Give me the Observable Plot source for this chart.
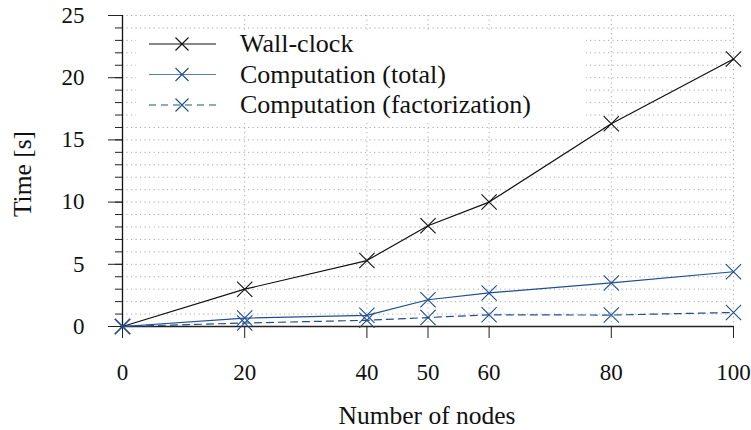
<!DOCTYPE html>
<html><head><meta charset="utf-8">
<script src="https://cdn.jsdelivr.net/npm/d3@7"></script>
<script src="https://cdn.jsdelivr.net/npm/@observablehq/plot@0.6"></script>
<style>body{margin:0;background:#fff}</style>
</head><body><div id="chart"></div>
<script>
const nodes = [0, 20, 40, 50, 60, 80, 100];
const wallClock = [0, 3.0, 5.3, 8.1, 10.0, 16.3, 21.5];
const compTotal = [0, 0.68, 0.9, 2.15, 2.7, 3.5, 4.4];
const compFactor = [0, 0.28, 0.5, 0.72, 0.94, 0.92, 1.13];
const seriesNames = ["Wall-clock", "Computation (total)", "Computation (factorization)"];
const xTicks = [0, 20, 40, 50, 60, 80, 100];
const yTicks = [0, 5, 10, 15, 20, 25];
const yMinor = d3.range(0, 26);

const blue = "#1f4f8f";
const styles = [
  {stroke: "#111", legend: "#111", dash: null},
  {stroke: blue, legend: "#5a7fae", dash: null},
  {stroke: blue, legend: blue, dash: "7,5"}
];
const seriesVals = [wallClock, compTotal, compFactor];
const data = [];
seriesVals.forEach((vals, i) => nodes.forEach((n, j) => data.push({series: seriesNames[i], x: n, y: vals[j]})));

const font = "'Liberation Serif', 'DejaVu Serif', serif";
const grid = {stroke: "#a8a8a8", strokeOpacity: 1, strokeDasharray: "1.2,3.3", strokeWidth: 1};

const marks = [
  Plot.gridY(yMinor, grid),
  Plot.gridX(xTicks, grid),
  Plot.axisY(yMinor, {tickSize: 7, text: null, label: null, stroke: "#222"}),
  Plot.axisY(yTicks, {tickSize: 14, tickPadding: 24, fontSize: 23, stroke: "#222", fill: "#111", label: null}),
  Plot.axisX(xTicks, {tickSize: 12, tickPadding: 25, fontSize: 23, stroke: "#222", fill: "#111", label: null}),
  Plot.ruleX([0], {stroke: "#111", strokeWidth: 1.3}),
  Plot.ruleY([0], {stroke: "#222", strokeWidth: 1.3}),
];
seriesNames.forEach((name, i) => {
  const d = data.filter(r => r.series === name);
  marks.push(Plot.line(d, {x: "x", y: "y", stroke: styles[i].stroke, strokeWidth: 1.2, strokeDasharray: styles[i].dash}));
  marks.push(Plot.dot(d, {x: "x", y: "y", symbol: "times", r: 7, stroke: styles[i].stroke, strokeWidth: 1.1}));
});

const chart = Plot.plot({
  width: 751, height: 430,
  marginLeft: 122, marginRight: 18, marginTop: 15, marginBottom: 104,
  style: {fontFamily: font, fontSize: "23px", color: "#111", background: "#fff"},
  x: {domain: [0, 100]},
  y: {domain: [0, 25]},
  marks
});
document.getElementById("chart").appendChild(chart);

const svg = d3.select(chart);
// axis titles
svg.append("text").attr("x", 427).attr("y", 424).attr("text-anchor", "middle")
  .attr("font-family", font).attr("font-size", 25.5).attr("fill", "#111").text("Number of nodes");
svg.append("text").attr("transform", "translate(31,174) rotate(-90)").attr("text-anchor", "middle")
  .attr("font-family", font).attr("font-size", 25.5).attr("fill", "#111").text("Time [s]");

// legend
const lg = svg.append("g");
lg.append("rect").attr("x", 136).attr("y", 30).attr("width", 450).attr("height", 91).attr("fill", "#fff");
const rows = [44, 74.5, 105];
seriesNames.forEach((name, i) => {
  const y = rows[i];
  lg.append("line").attr("x1", 149).attr("x2", 216).attr("y1", y).attr("y2", y)
    .attr("stroke", styles[i].legend).attr("stroke-width", 1.2)
    .attr("stroke-dasharray", styles[i].dash);
  const s = 6.5;
  lg.append("path").attr("d", `M${182-s},${y-s}L${182+s},${y+s}M${182-s},${y+s}L${182+s},${y-s}`)
    .attr("stroke", styles[i].stroke).attr("stroke-width", 1.1).attr("fill", "none");
  lg.append("text").attr("x", 240).attr("y", y).attr("dy", "0.32em").attr("text-anchor", "start")
    .attr("font-family", font).attr("font-size", 26).attr("fill", "#111").text(name);
});
</script></body></html>
